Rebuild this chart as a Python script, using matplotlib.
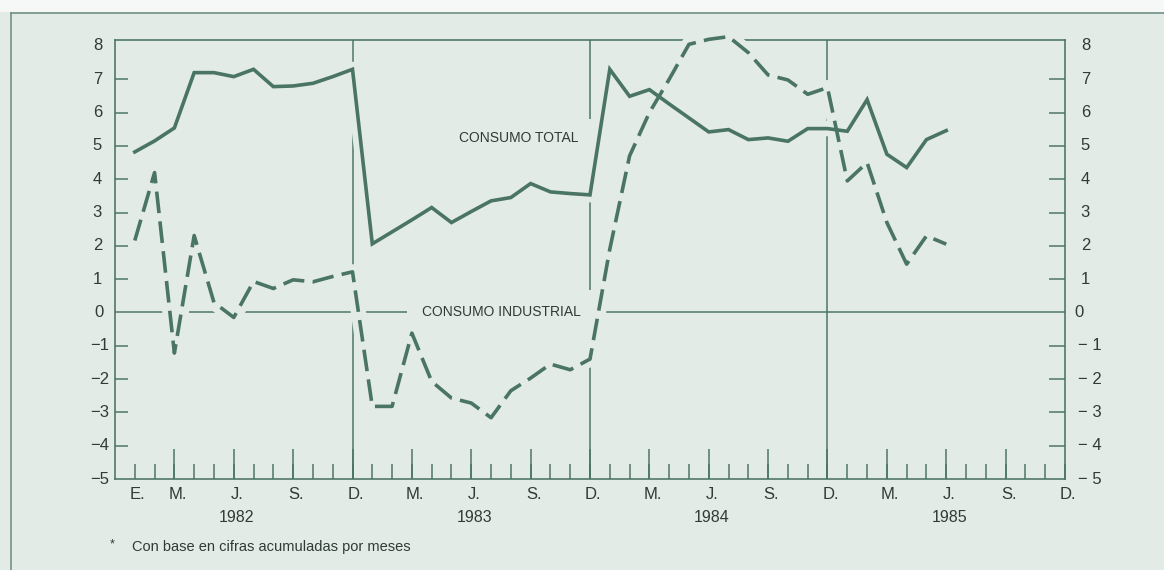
import matplotlib
matplotlib.use("Agg")
import matplotlib.pyplot as plt
import matplotlib.transforms as mtransforms
from matplotlib.ticker import FixedLocator
from matplotlib.lines import Line2D
from matplotlib.patches import Rectangle

# ---------------- data ----------------
# month index: 0 = Dec 1981, 1 = Jan 1982, ..., 48 = Dec 1985
months = list(range(1, 43))  # Jan 1982 .. Jun 1985
consumo_total = [4.82, 5.15, 5.54, 7.20, 7.20, 7.08, 7.30, 6.78, 6.80, 6.88, 7.08, 7.30,
                 2.06, 2.42, 2.78, 3.15, 2.70, 3.03, 3.35, 3.45, 3.87, 3.62, 3.57, 3.53,
                 7.30, 6.49, 6.69, 6.26, 5.84, 5.42, 5.49, 5.19, 5.24, 5.14, 5.52, 5.52,
                 5.44, 6.39, 4.75, 4.35, 5.19, 5.46]
consumo_industrial = [2.16, 4.20, -1.22, 2.31, 0.30, -0.15, 0.93, 0.72, 0.98, 0.92, 1.08, 1.22,
                      -2.82, -2.82, -0.62, -2.07, -2.57, -2.72, -3.16, -2.35, -1.97, -1.55, -1.72, -1.40,
                      1.90, 4.70, 6.00, 7.00, 8.05, 8.20, 8.28, 7.80, 7.13, 6.98, 6.55, 6.75,
                      3.95, 4.50, 2.70, 1.45, 2.30, 2.05]

month_label_pos = [1, 3, 6, 9, 12, 15, 18, 21, 24, 27, 30, 33, 36, 39, 42, 45, 48]
month_labels = ["E.", "M.", "J.", "S.", "D.", "M.", "J.", "S.", "D.",
                "M.", "J.", "S.", "D.", "M.", "J.", "S.", "D."]
year_pos = [6, 18, 30, 42]
year_labels = ["1982", "1983", "1984", "1985"]
y_values = list(range(-5, 9))
y_tick_values = [-4, -3, -2, -1, 1, 2, 3, 4, 5, 6, 7]
all_months = list(range(1, 49))
quarter_months = list(range(3, 48, 3))
year_ends = [12, 24, 36]

label_total = "CONSUMO TOTAL"
label_ind = "CONSUMO INDUSTRIAL"
footnote = "Con base en cifras acumuladas por meses"

# ---------------- style ----------------
W, H = 1164, 570
BG = "#e3ebe6"
LINE = "#4a7464"
TXT = "#2e3b36"
FRAME = "#6e8f82"
PX = 0.72  # points per pixel at 100 dpi
FONT = "Liberation Sans"

fig = plt.figure(figsize=(W / 100, H / 100), dpi=100)
fig.patch.set_facecolor(BG)

# white strip above the frame and the frame lines
fig.add_artist(Rectangle((0, (H - 12) / H), 1, 12 / H, transform=fig.transFigure,
                         facecolor="#f6f8f7", edgecolor="none", zorder=0))
fig.add_artist(Line2D([11 / W, 1], [(H - 13) / H, (H - 13) / H], transform=fig.transFigure,
                      color=FRAME, lw=1.6 * PX))
fig.add_artist(Line2D([11 / W, 11 / W], [0, (H - 13) / H], transform=fig.transFigure,
                      color=FRAME, lw=1.6 * PX))

ax = fig.add_axes([115 / W, (H - 479) / H, 950 / W, 439 / H])
ax.set_facecolor(BG)
ax.set_xlim(0, 48)
ax.set_ylim(-5, 8.18)
for s in ax.spines.values():
    s.set_color(LINE)
    s.set_linewidth(1.6 * PX)

# x ticks: short monthly, tall quarterly
ax.xaxis.remove_overlapping_locs = False
ax.xaxis.set_major_locator(FixedLocator(quarter_months))
ax.xaxis.set_minor_locator(FixedLocator(all_months))
ax.tick_params(axis="x", which="major", direction="in", length=30 * PX, width=1.5 * PX,
               color=LINE, labelbottom=False, top=False)
ax.tick_params(axis="x", which="minor", direction="in", length=15 * PX, width=1.5 * PX,
               color=LINE, labelbottom=False, top=False)
# y ticks left
ax.set_yticks(y_tick_values)
ax.tick_params(axis="y", direction="in", length=13 * PX, width=1.5 * PX, color=LINE,
               labelleft=False, right=False)

# right ticks via twin axis
ax2 = ax.twinx()
ax2.set_ylim(ax.get_ylim())
ax2.set_yticks(y_tick_values)
ax2.tick_params(axis="y", direction="in", length=16 * PX, width=1.5 * PX, color=LINE,
                labelright=False)
for s in ax2.spines.values():
    s.set_visible(False)

# grid-like lines
ax.axhline(0, color=LINE, lw=1.5 * PX, zorder=1)
for m in year_ends:
    ax.axvline(m, color=LINE, lw=1.5 * PX, zorder=1)

# annotations (with background boxes that break the grid lines)
ax.text(20.4, 5.23, label_total, fontsize=10, family=FONT, color=TXT, ha="center",
        va="center", zorder=2,
        bbox=dict(boxstyle="square,pad=0.9", facecolor=BG, edgecolor="none"))
ax.text(19.55, 0.0, label_ind, fontsize=10, family=FONT, color=TXT, ha="center",
        va="center", zorder=2,
        bbox=dict(boxstyle="square,pad=1.1", facecolor=BG, edgecolor="none"))

# halos (erase grid under the curves)
for ys in (consumo_total, consumo_industrial):
    ax.plot(months, ys, color=BG, lw=11, solid_capstyle="butt", zorder=2.6, clip_on=False)

ax.plot(months, consumo_industrial, color=LINE, lw=2.6, linestyle=(0, (6, 2.3)),
        dash_capstyle="butt", zorder=3, clip_on=False)
ax.plot(months, consumo_total, color=LINE, lw=2.6, zorder=3.1, clip_on=False,
        solid_joinstyle="miter")

# tick labels as text
def fmt(v, space=""):
    return str(v) if v >= 0 else "\u2212" + space + str(-v)

ytr = ax.get_yaxis_transform()
for v in y_values:
    dx = -13 if v > 0 else (-11 if v == 0 else -6)
    tr = mtransforms.offset_copy(ytr, fig=fig, x=dx, y=0, units="dots")
    ax.text(0, v, fmt(v), transform=tr, ha="right", va="center", fontsize=12,
            family=FONT, color=TXT, clip_on=False)
    dx = 25 if v > 0 else (19 if v == 0 else 37)
    tr = mtransforms.offset_copy(ytr, fig=fig, x=dx, y=0, units="dots")
    ax.text(1, v, fmt(v, " "), transform=tr, ha="right", va="center", fontsize=12,
            family=FONT, color=TXT, clip_on=False)

xtr = ax.get_xaxis_transform()
for m, lab in zip(month_label_pos, month_labels):
    tr = mtransforms.offset_copy(xtr, fig=fig, x=3, y=-15.5, units="dots")
    ax.text(m, 0, lab, transform=tr, ha="center", va="center", fontsize=12,
            family=FONT, color=TXT, clip_on=False)
for m, lab in zip(year_pos, year_labels):
    tr = mtransforms.offset_copy(xtr, fig=fig, x=3, y=-39, units="dots")
    ax.text(m, 0, lab, transform=tr, ha="center", va="center", fontsize=11.5,
            family=FONT, color=TXT, clip_on=False)

# footnote
fig.text(112 / W, (H - 544) / H, "*", fontsize=9, family=FONT, color=TXT,
         ha="center", va="center")
fig.text(132 / W, (H - 547) / H, footnote, fontsize=10.5, family=FONT, color=TXT,
         ha="left", va="center")

fig.savefig("out.png", dpi=100, facecolor=BG)
